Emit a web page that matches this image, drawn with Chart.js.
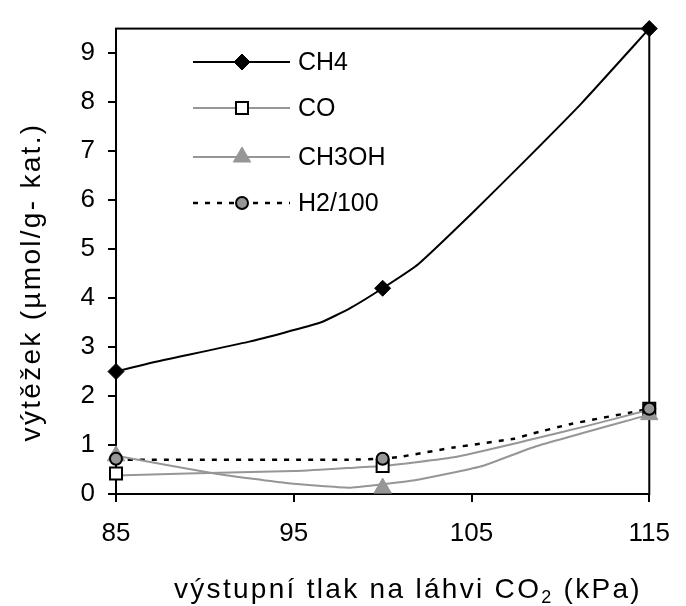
<!DOCTYPE html>
<html>
<head>
<meta charset="utf-8">
<script src="https://cdn.jsdelivr.net/npm/chart.js@4/dist/chart.umd.min.js"></script>
<style>
  html, body { margin: 0; padding: 0; background: #fff; }
  #wrap { width: 686px; height: 606px; }
</style>
</head>
<body>
<div id="wrap"><canvas id="chart" width="686" height="606"></canvas></div>
<script>
// marker points (measured samples)
const xMarks = [85, 100, 115];
const ch4Marks = [2.5, 4.2, 9.5];
const coMarks = [0.42, 0.57, 1.74];
const ch3ohMarks = [0.78, 0.12, 1.62];
const h2Marks = [0.72, 0.72, 1.74];

// trend curves
const ch4LineX = [85, 87, 92.5, 96.5, 98.2, 100, 102, 105, 108, 111.2, 115];
const ch4LineY = [2.5, 2.68, 3.11, 3.5, 3.8, 4.2, 4.69, 5.72, 6.8, 7.98, 9.5];
const coLineX = [85, 89, 95, 98, 100, 104, 108, 111.4, 115];
const coLineY = [0.38, 0.42, 0.47, 0.53, 0.57, 0.75, 1.08, 1.38, 1.72];
const ch3ohLineX = [85, 90.7, 94.7, 98.1, 100, 101.8, 105.5, 108.6, 115];
const ch3ohLineY = [0.78, 0.41, 0.22, 0.13, 0.2, 0.28, 0.56, 0.97, 1.62];
const h2LineX = [85, 98, 100, 101, 104, 107.4, 108.3, 110.6, 113.9, 115];
const h2LineY = [0.7, 0.7, 0.72, 0.76, 0.95, 1.13, 1.22, 1.43, 1.66, 1.74];

const seriesNames = ['CH4', 'CO', 'CH3OH', 'H2/100'];
const xTicks = [85, 95, 105, 115];
const yTicks = [0, 1, 2, 3, 4, 5, 6, 7, 8, 9];
const xTitle = ['výstupní tlak na láhvi CO', '2', ' (kPa)'];
const yTitle = 'výtěžek (µmol/g- kat.)';

const GRAY = '#969696';
const FONT = 'Arial, "Liberation Sans", sans-serif';

function pts(xs, ys) {
  return xs.map((x, i) => ({ x: x, y: ys[i] }));
}

const styles = [
  { line: '#000', dash: [], shape: 'rectRot', r: 8, fill: '#000', border: '#000', bw: 1 },
  { line: GRAY, dash: [], shape: 'rect', r: 8.5, fill: '#fff', border: '#000', bw: 2 },
  { line: GRAY, dash: [], shape: 'triangle', r: 10, fill: GRAY, border: GRAY, bw: 1 },
  { line: '#000', dash: [5, 7], shape: 'circle', r: 6, fill: GRAY, border: '#000', bw: 2 }
];

const lineSets = [
  pts(ch4LineX, ch4LineY), pts(coLineX, coLineY),
  pts(ch3ohLineX, ch3ohLineY), pts(h2LineX, h2LineY)
];
const markSets = [ch4Marks, coMarks, ch3ohMarks, h2Marks].map(v => pts(xMarks, v));

const datasets = [];
lineSets.forEach((d, i) => {
  datasets.push({
    label: seriesNames[i] + ' line',
    data: d,
    showLine: true,
    borderColor: styles[i].line,
    borderWidth: i === 3 ? 2.5 : 2,
    borderDash: styles[i].dash,
    tension: 0.15,
    pointRadius: 0,
    order: 10 + i
  });
});
markSets.forEach((d, i) => {
  datasets.push({
    label: seriesNames[i],
    data: d,
    showLine: false,
    pointStyle: styles[i].shape,
    pointRadius: styles[i].r,
    pointBackgroundColor: styles[i].fill,
    pointBorderColor: styles[i].border,
    pointBorderWidth: styles[i].bw,
    clip: false,
    order: 3 - i
  });
});

// box around the plot area
const frame = {
  id: 'frame',
  beforeDatasetsDraw(chart) {
    const { ctx, chartArea: a } = chart;
    ctx.save();
    ctx.strokeStyle = '#000';
    ctx.lineWidth = 2;
    ctx.strokeRect(a.left, a.top, a.right - a.left, a.bottom - a.top);
    ctx.restore();
  }
};

// legend inside plot + axis titles
const extras = {
  id: 'extras',
  afterDraw(chart) {
    const ctx = chart.ctx;
    ctx.save();
    const rows = [62, 108, 157, 203];
    rows.forEach((y, i) => {
      const s = styles[i];
      ctx.strokeStyle = s.line;
      ctx.lineWidth = i === 3 ? 2.5 : 2;
      ctx.setLineDash(s.dash);
      ctx.beginPath();
      ctx.moveTo(193, y);
      ctx.lineTo(290, y);
      ctx.stroke();
      ctx.setLineDash([]);
      ctx.fillStyle = s.fill;
      ctx.strokeStyle = s.border;
      ctx.lineWidth = s.bw;
      Chart.helpers.drawPoint(ctx, { pointStyle: s.shape, radius: s.r, rotation: 0, borderWidth: s.bw }, 242, y);
      ctx.fillStyle = '#000';
      ctx.font = '25px ' + FONT;
      ctx.textAlign = 'left';
      ctx.textBaseline = 'middle';
      ctx.fillText(seriesNames[i], 298, y + 1);
    });

    ctx.fillStyle = '#000';
    ctx.textBaseline = 'middle';
    ctx.letterSpacing = '2.3px';
    // x title with subscript
    ctx.font = '28px ' + FONT;
    const w0 = ctx.measureText(xTitle[0]).width;
    ctx.font = '18px ' + FONT;
    const w1 = ctx.measureText(xTitle[1]).width;
    ctx.font = '28px ' + FONT;
    const w2 = ctx.measureText(xTitle[2]).width;
    let x = 408 - (w0 + w1 + w2) / 2;
    const ty = 590;
    ctx.textAlign = 'left';
    ctx.fillText(xTitle[0], x, ty);
    x += w0;
    ctx.font = '18px ' + FONT;
    ctx.fillText(xTitle[1], x, ty + 8);
    x += w1;
    ctx.font = '28px ' + FONT;
    ctx.fillText(xTitle[2], x, ty);

    // y title
    ctx.translate(32, 282);
    ctx.rotate(-Math.PI / 2);
    ctx.textAlign = 'center';
    ctx.fillText(yTitle, 0, 0);
    ctx.restore();
  }
};

new Chart(document.getElementById('chart'), {
  type: 'scatter',
  data: { datasets: datasets },
  plugins: [frame, extras],
  options: {
    responsive: false,
    animation: false,
    events: [],
    layout: { padding: { top: 14, right: 23, left: 0, bottom: 0 } },
    plugins: { legend: { display: false }, tooltip: { enabled: false } },
    scales: {
      x: {
        type: 'linear',
        min: 85,
        max: 115,
        afterBuildTicks: s => { s.ticks = xTicks.map(v => ({ value: v })); },
        afterFit: s => { s.height = 112; },
        ticks: { color: '#000', font: { size: 26, family: FONT }, padding: 16, maxRotation: 0 },
        grid: { drawOnChartArea: false, drawTicks: true, tickLength: 8, color: '#000', lineWidth: 2 },
        border: { color: '#000', width: 2 }
      },
      y: {
        type: 'linear',
        min: 0,
        max: 9.5,
        afterBuildTicks: s => { s.ticks = yTicks.map(v => ({ value: v })); },
        afterFit: s => { s.width = 116; },
        ticks: { color: '#000', font: { size: 26, family: FONT }, padding: 13 },
        grid: { drawOnChartArea: false, drawTicks: true, tickLength: 8, color: '#000', lineWidth: 2 },
        border: { color: '#000', width: 2 }
      }
    }
  }
});
</script>
</body>
</html>
